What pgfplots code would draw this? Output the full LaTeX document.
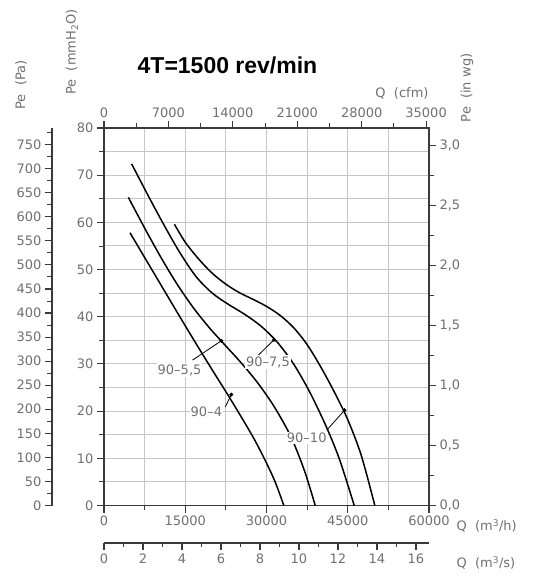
\documentclass[border=0pt]{standalone}
\usepackage{fontspec}
\setmainfont{DejaVu Sans}
\newfontfamily\titlefont{Liberation Sans}
\usepackage{pgfplots}
\pgfplotsset{compat=1.18}
\definecolor{tickgray}{HTML}{707070}
\definecolor{gridgray}{HTML}{C6C6C6}
\definecolor{axisdark}{HTML}{3A3A3A}
\newcommand{\lblfont}{\fontsize{13}{15}\selectfont}
\begin{document}
\begin{tikzpicture}
\pgfplotsset{
  every axis/.append style={
    scale only axis, width=325pt, height=377.5pt, anchor=south west,
    /pgf/number format/assume math mode=true,
    /pgf/number format/1000 sep={},
    scaled ticks=false,
    tick label style={font=\lblfont, text=tickgray},
    axis line style={axisdark, line width=1.3pt},
    major tick style={axisdark, line width=1.1pt},
    minor tick style={axisdark, line width=0.9pt},
    tick align=outside, major tick length=7pt, minor tick length=4.5pt,
  }
}
% main axis (m3/h vs mmH2O)
\begin{axis}[at={(0pt,0pt)},
  xmin=0, xmax=60000, ymin=0, ymax=80,
  xtick={0,15000,30000,45000,60000}, minor xtick={7500,22500,37500,52500},
  ytick={0,10,...,80}, minor ytick={5,15,...,75},
  xtick pos=bottom, ytick pos=left,
  grid=both, major grid style={gridgray, line width=1pt}, minor grid style={gridgray, line width=1pt},
  clip=false]
% 90-4
\addplot[black, line width=1.5pt, smooth] coordinates {(4800,57.8)(8000,51.6)(11000,45.8)(14000,40.0)(17000,34.3)(20000,28.7)(23000,23.2)(26000,17.5)(28000,13.5)(30000,9.0)(31600,5.0)(33200,0)};
% 90-5,5
\addplot[black, line width=1.5pt, smooth] coordinates {(4500,65.3)(7500,58.8)(10500,52.6)(13500,46.9)(16500,41.9)(19500,37.6)(22500,33.8)(25500,30.0)(28500,25.8)(31500,20.8)(34500,14.6)(37000,7.4)(39000,0)};
% 90-7,5
\addplot[black, line width=1.5pt, smooth] coordinates {(5100,72.4)(8000,66.0)(11000,59.6)(14000,53.6)(17000,48.5)(20000,45.0)(23000,42.6)(26000,40.5)(29000,38.0)(32000,34.6)(35000,30.0)(38000,24.0)(41000,16.8)(43500,9.7)(46200,0)};
% 90-10
\addplot[black, line width=1.5pt, smooth] coordinates {(13000,59.6)(15000,55.8)(17500,52.2)(20000,49.2)(22500,46.9)(25000,45.1)(27500,43.7)(30000,42.2)(32500,40.3)(35000,37.7)(37500,34.1)(40000,29.4)(42500,24.1)(45000,18.2)(47500,10.6)(50000,0)};
% pointer lines
\addplot[black, line width=0.8pt] coordinates {(16330,30.8)(21650,34.9)};
\addplot[black, line width=0.8pt] coordinates {(28260,31.6)(31380,35.1)};
\addplot[black, line width=0.8pt] coordinates {(22390,20.9)(23500,23.5)};
\addplot[black, line width=0.8pt] coordinates {(41160,16.0)(44410,20.2)};
\addplot[only marks, mark=*, mark size=1.8pt, black] coordinates {(21650,34.9)(31380,35.1)(23500,23.5)(44410,20.2)};
\node[font=\lblfont, text=tickgray, fill=white, inner sep=1pt] at (axis cs:13950,28.7) {90--5,5};
\node[font=\lblfont, text=tickgray, fill=white, inner sep=1pt] at (axis cs:30280,30.4) {90--7,5};
\node[font=\lblfont, text=tickgray, fill=white, inner sep=1pt] at (axis cs:18900,19.8) {90--4};
\node[font=\lblfont, text=tickgray, fill=white, inner sep=1pt] at (axis cs:37430,14.3) {90--10};
\end{axis}
% top axis (cfm)
\begin{axis}[at={(0pt,0pt)},
  xmin=0, xmax=35314.7, ymin=0, ymax=1,
  axis x line*=top, hide y axis,
  xtick={0,7000,...,35000}, minor xtick={3500,10500,...,31500}]
\end{axis}
% right axis (in wg)
\begin{axis}[at={(0pt,0pt)},
  xmin=0, xmax=1, ymin=0, ymax=3.14961,
  axis y line*=right, hide x axis,
  ytick={0,0.5,1,1.5,2,2.5,3}, minor ytick={0.25,0.75,1.25,1.75,2.25,2.75},
  yticklabel style={/pgf/number format/.cd, fixed, fixed zerofill, precision=1, use comma}]
\end{axis}
% left axis (Pa)
\begin{axis}[at={(-52pt,0pt)}, width=10pt,
  xmin=0, xmax=1, ymin=0, ymax=784.53,
  axis y line*=left, hide x axis,
  ytick={0,50,...,750}, minor ytick={25,75,...,775}]
\end{axis}
% bottom axis (m3/s)
\begin{axis}[at={(0pt,-37.5pt)}, height=1pt,
  xmin=0, xmax=16.6667, ymin=0, ymax=1,
  axis x line*=bottom, hide y axis,
  xtick={0,2,...,16}, minor xtick={1,3,...,15}]
\end{axis}
% texts
\node[font=\titlefont\bfseries\fontsize{23}{25}\selectfont] at (123.5pt,440.5pt) {4T=1500 rev/min};
\node[font=\lblfont, text=tickgray, rotate=90] at (-83pt,420.5pt) {Pe\ \ (Pa)};
\node[font=\lblfont, text=tickgray, rotate=90] at (-32pt,453.5pt) {Pe\ \ (mmH\textsubscript{2}O)};
\node[font=\lblfont, text=tickgray, rotate=90] at (363pt,417.5pt) {Pe\ \ (in\ wg)};
\node[font=\lblfont, text=tickgray] at (298pt,412.5pt) {Q\ \ (cfm)};
\node[font=\lblfont, text=tickgray, anchor=west] at (349pt,-20.5pt) {Q\ \ (m\textsuperscript{3}/h)};
\node[font=\lblfont, text=tickgray, anchor=west] at (349pt,-57.5pt) {Q\ \ (m\textsuperscript{3}/s)};
\pgfresetboundingbox
\useasboundingbox (-104pt,-73.5pt) rectangle (449pt,505.5pt);
\end{tikzpicture}
\end{document}
